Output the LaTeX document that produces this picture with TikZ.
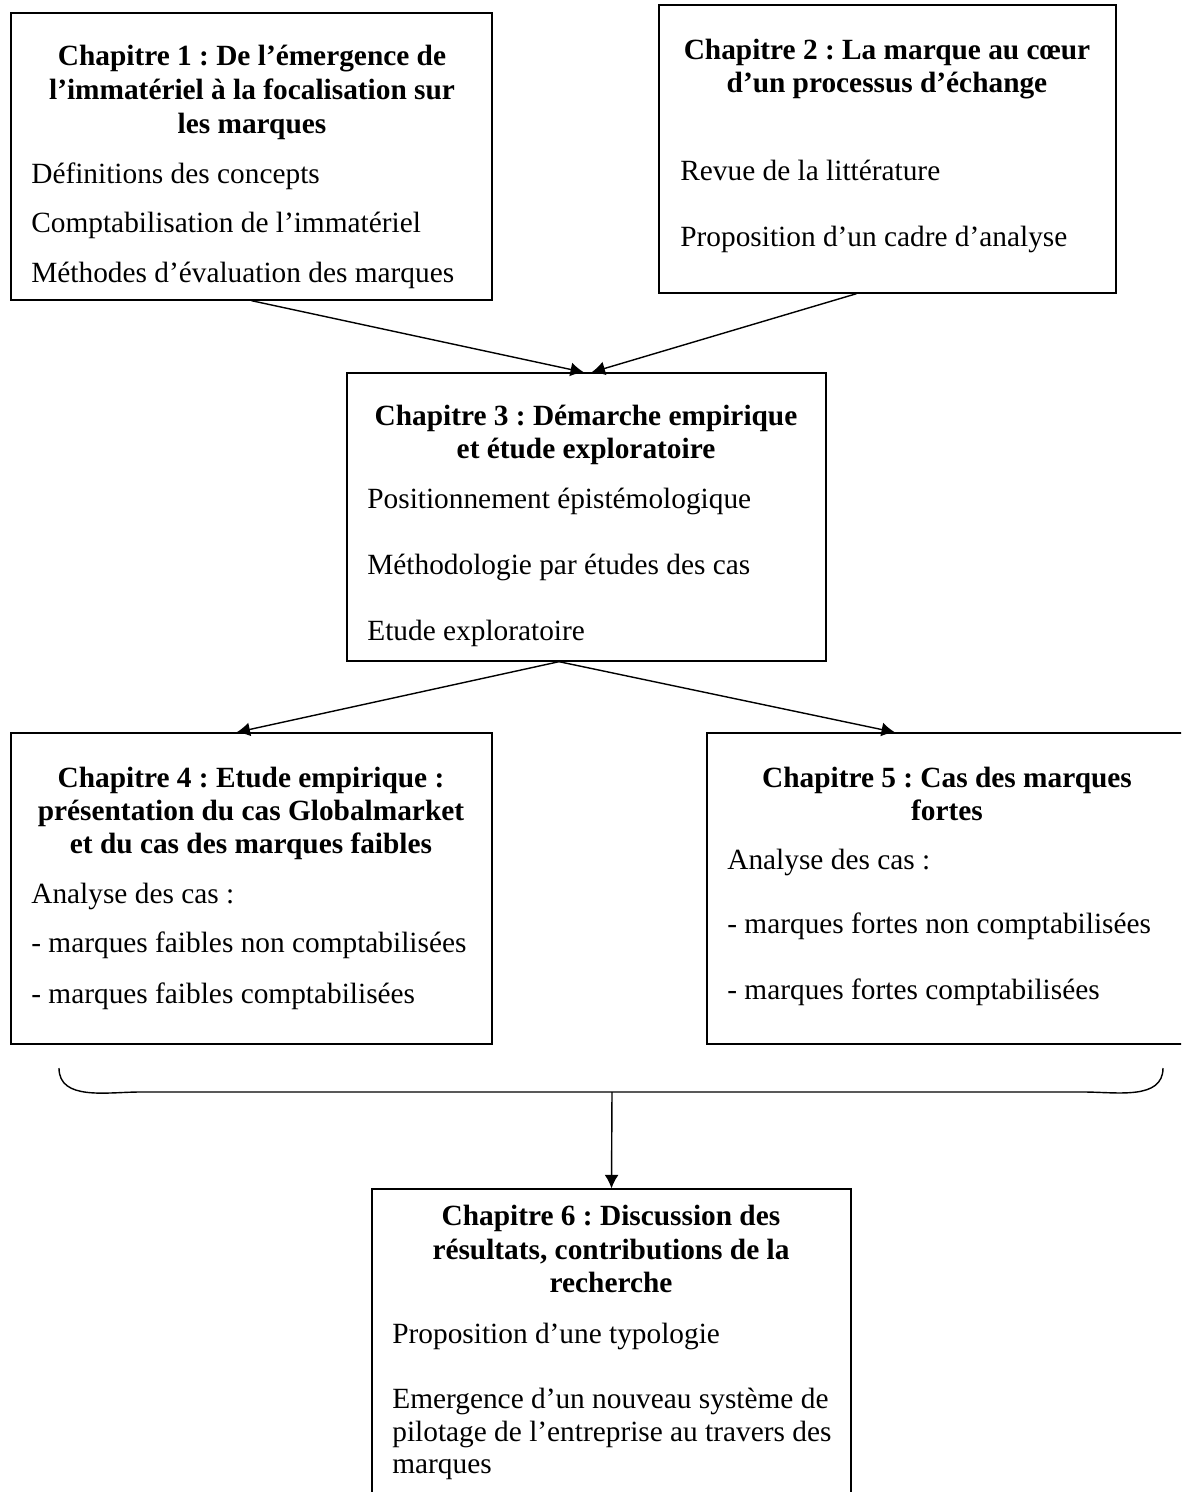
\documentclass[tikz,border=0pt]{standalone}
\usepackage{fontspec}
\setmainfont{Liberation Serif}
\usetikzlibrary{arrows.meta}
\newcommand{\taille}{\fontsize{16.7pt}{19pt}\selectfont}
\frenchspacing
\begin{document}
\begin{tikzpicture}[x=0.02cm, y=-0.02cm,
    chap/.style={draw, line width=0.8pt, inner sep=0pt},
    titre/.style={anchor=base, inner sep=0pt, font=\taille\bfseries},
    ligne/.style={anchor=base west, inner sep=0pt, font=\taille},
    fleche/.style={line width=0.8pt, -{Latex[length=0.27cm, width=0.28cm]}}]
  \clip (0,0) rectangle (1181,1492);

  % les cadres
  \node[chap, minimum width=9.62cm, minimum height=5.74cm] (c1) at (251.5,156.5) {};
  \node[chap, minimum width=9.14cm, minimum height=5.76cm] (c2) at (887.5,149) {};
  \node[chap, minimum width=9.58cm, minimum height=5.76cm] (c3) at (586.5,517) {};
  \node[chap, minimum width=9.62cm, minimum height=6.22cm] (c4) at (251.5,888.5) {};
  \node[chap, minimum width=9.52cm, minimum height=6.22cm] (c5) at (945,888.5) {};
  \node[chap, minimum width=9.58cm, minimum height=7.2cm] (c6) at (611.5,1369) {};

  % chapitre 1
  \node[titre] (c1t1) at (252,65) {Chapitre 1 : De l’émergence de};
  \node[titre] (c1t2) at (252,99) {l’immatériel à la focalisation sur};
  \node[titre] (c1t3) at (252,133) {les marques};
  \node[ligne] (c1l1) at (31,183) {Définitions des concepts};
  \node[ligne] (c1l2) at (31,232) {Comptabilisation de l’immatériel};
  \node[ligne] (c1l3) at (31,282) {Méthodes d’évaluation des marques};

  % chapitre 2
  \node[titre] (c2t1) at (887,59) {Chapitre 2 : La marque au cœur};
  \node[titre] (c2t2) at (887,92) {d’un processus d’échange};
  \node[ligne] (c2l1) at (680,180) {Revue de la littérature};
  \node[ligne] (c2l2) at (680,246) {Proposition d’un cadre d’analyse};

  % chapitre 3
  \node[titre] (c3t1) at (586,425) {Chapitre 3 : Démarche empirique};
  \node[titre] (c3t2) at (586,458) {et étude exploratoire};
  \node[ligne] (c3l1) at (367,508) {Positionnement épistémologique};
  \node[ligne] (c3l2) at (367,574) {Méthodologie par études des cas};
  \node[ligne] (c3l3) at (367,640) {Etude exploratoire};

  % chapitre 4
  \node[titre] (c4t1) at (251,787) {Chapitre 4 : Etude empirique :};
  \node[titre] (c4t2) at (251,820) {présentation du cas Globalmarket};
  \node[titre] (c4t3) at (251,853) {et du cas des marques faibles};
  \node[ligne] (c4l1) at (31,903) {Analyse des cas :};
  \node[ligne] (c4l2) at (31,952) {- marques faibles non comptabilisées};
  \node[ligne] (c4l3) at (31,1003) {- marques faibles comptabilisées};

  % chapitre 5
  \node[titre] (c5t1) at (947,787) {Chapitre 5 : Cas des marques};
  \node[titre] (c5t2) at (947,820) {fortes};
  \node[ligne] (c5l1) at (727,869) {Analyse des cas :};
  \node[ligne] (c5l2) at (727,933) {- marques fortes non comptabilisées};
  \node[ligne] (c5l3) at (727,999) {- marques fortes comptabilisées};

  % chapitre 6
  \node[titre] (c6t1) at (611,1225) {Chapitre 6 : Discussion des};
  \node[titre] (c6t2) at (611,1259) {résultats, contributions de la};
  \node[titre] (c6t3) at (611,1292) {recherche};
  \node[ligne] (c6l1) at (392,1343) {Proposition d’une typologie};
  \node[ligne] (c6l2) at (392,1408) {Emergence d’un nouveau système de};
  \node[ligne] (c6l3) at (392,1441) {pilotage de l’entreprise au travers des};
  \node[ligne] (c6l4) at (392,1473) {marques};

  % accolade
  \coordinate (bg) at (59,1068);
  \coordinate (bd) at (1163,1068);
  \coordinate (bm) at (612,1092);
  \draw[line width=0.8pt] (bg) to[out=-90, in=180] (140,1092) -- (1084,1092) to[out=0, in=-90] (bd);

  % fleches
  \draw[fleche] (c1.south) -- ([xshift=-0.05cm]c3.north);
  \draw[fleche] ([xshift=-0.62cm]c2.south) -- ([xshift=0.1cm]c3.north);
  \draw[fleche] ([xshift=-0.55cm]c3.south) -- ([xshift=-0.3cm]c4.north);
  \draw[fleche] ([xshift=-0.55cm]c3.south) -- ([xshift=-1.0cm]c5.north);
  \draw[fleche] (bm) -- (c6.north);
\end{tikzpicture}
\end{document}
